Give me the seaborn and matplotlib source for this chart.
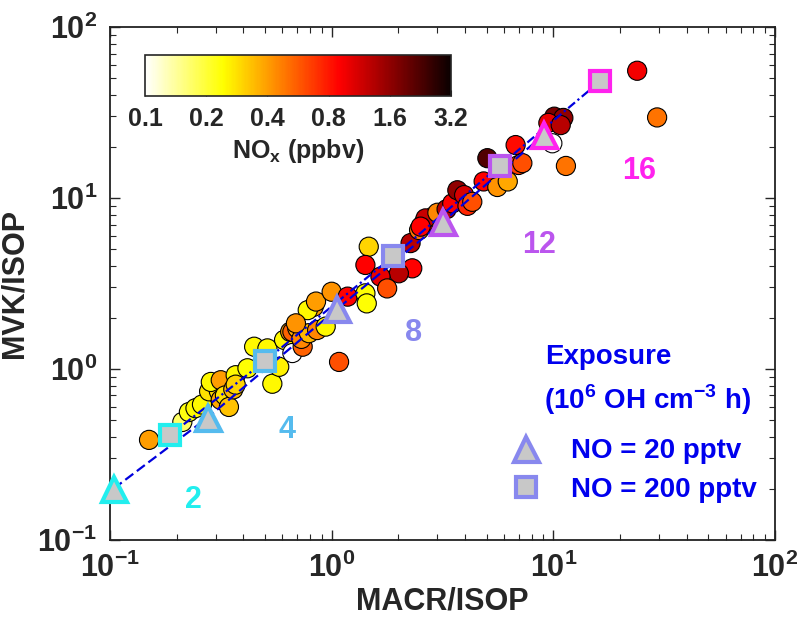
import matplotlib
matplotlib.use("Agg")
import matplotlib.pyplot as plt
from matplotlib.colors import LogNorm
from matplotlib.cm import ScalarMappable
from matplotlib.lines import Line2D
import seaborn as sns

# observations: MACR/ISOP, MVK/ISOP, NOx (ppbv)
macr_isop = [0.15, 0.212, 0.227, 0.243, 0.26, 0.28, 0.31, 0.285, 0.316, 0.316,
             0.33, 0.344, 0.36, 0.369, 0.369, 0.417, 0.447, 0.513, 0.54, 0.58,
             0.61, 0.65, 0.665, 0.665, 0.74, 0.70, 0.73, 0.79, 0.83, 0.78,
             0.85, 0.86, 0.94, 0.69, 1.0, 1.18, 1.42, 1.44, 1.08, 1.47,
             1.42, 2.31, 2.01, 1.66, 1.78, 2.27, 2.48, 2.6, 2.88, 2.65,
             2.52, 3.0, 3.3, 3.5, 3.69, 3.96, 4.1, 4.31, 4.85, 5.59,
             6.23, 5.04, 6.76, 6.97, 7.25, 9.9, 10.1, 11.1, 9.5, 10.8,
             11.4, 23.9, 29.4]
mvk_isop = [0.385, 0.49, 0.56, 0.59, 0.62, 0.74, 0.74, 0.84, 0.86, 0.66,
            0.70, 0.60, 0.76, 0.92, 0.81, 1.01, 1.35, 1.32, 0.82, 1.03,
            1.48, 1.65, 1.24, 1.65, 1.35, 1.73, 1.5, 1.62, 2.31, 2.21,
            2.48, 1.69, 1.77, 1.85, 2.83, 2.65, 2.77, 2.42, 1.1, 5.19,
            4.06, 3.88, 3.63, 3.47, 2.96, 5.45, 6.5, 7.1, 7.8, 7.6,
            6.8, 8.2, 8.6, 9.3, 11.1, 10.4, 9.0, 9.5, 12.5, 11.6,
            12.5, 17.1, 20.4, 15.6, 16.0, 20.9, 29.9, 29.4, 27.5, 26.7,
            15.4, 55.5, 29.6]
nox_ppbv = [0.4, 0.17, 0.23, 0.25, 0.25, 0.28, 0.3, 0.25, 0.4, 0.38,
            0.28, 0.33, 0.35, 0.25, 0.3, 0.24, 0.25, 0.25, 0.25, 0.26,
            0.25, 0.4, 0.1, 0.55, 0.55, 0.38, 0.45, 0.35, 0.4, 0.25,
            0.4, 0.45, 0.25, 0.42, 0.42, 0.9, 0.24, 0.24, 0.6, 0.3,
            0.9, 0.9, 1.3, 1.0, 0.6, 1.3, 0.5, 1.0, 0.32, 1.2,
            0.9, 0.45, 1.3, 0.9, 1.6, 1.1, 0.75, 0.6, 0.9, 0.42,
            0.38, 2.2, 0.85, 0.65, 0.6, 0.1, 1.8, 1.6, 1.0, 1.3,
            0.5, 0.95, 0.5]

# model exposure (10^6 OH cm^-3 h) for the two NO cases
exposure = [2, 4, 8, 12, 16]
exp_colors = ["#22eeee", "#55bbee", "#8888ee", "#bb55ee", "#ff22ee"]
no20_macr = [0.104, 0.276, 1.06, 3.17, 9.04]
no20_mvk = [0.20, 0.52, 2.25, 7.24, 23.4]
no200_macr = [0.186, 0.499, 1.90, 5.72, 16.3]
no200_mvk = [0.41, 1.11, 4.58, 15.4, 48.3]
label_x = [0.239, 0.631, 2.35, 8.61, 24.3]
label_y = [0.171, 0.44, 1.62, 5.31, 14.4]

nox_ticks = [0.1, 0.2, 0.4, 0.8, 1.6, 3.2]

sns.set_style("ticks")
plt.rcParams["font.family"] = ["Liberation Sans", "DejaVu Sans"]
plt.rcParams["font.weight"] = "bold"
plt.rcParams["axes.labelweight"] = "bold"

fig = plt.figure(figsize=(8, 6.17), dpi=100)
ax = fig.add_axes([0.1375, 0.1248, 0.8312, 0.8314])
norm = LogNorm(0.1, 3.2)

sns.scatterplot(x=macr_isop, y=mvk_isop, hue=nox_ppbv, palette="hot_r", hue_norm=norm,
                s=190, edgecolor="black", linewidth=0.8, legend=False, ax=ax, zorder=3)

line_blue = "#0000dd"
ax.plot(no20_macr, no20_mvk, color=line_blue, lw=1.6, dashes=(4.5, 2), zorder=4)
ax.plot(no200_macr, no200_mvk, color=line_blue, lw=1.6, dashes=(4, 1.5, 1, 1.5), zorder=4)
for i in range(len(exposure)):
    ax.plot(no20_macr[i], no20_mvk[i], marker="^", ms=18, mfc="#c8c8c8",
            mec=exp_colors[i], mew=3, ls="none", zorder=5, clip_on=False)
    ax.plot(no200_macr[i], no200_mvk[i], marker="s", ms=14.5, mfc="#c8c8c8",
            mec=exp_colors[i], mew=3, ls="none", zorder=5, clip_on=False)
    ax.text(label_x[i], label_y[i], str(exposure[i]), color=exp_colors[i],
            fontsize=22, fontweight="bold", ha="center", va="center")

ax.set_xscale("log")
ax.set_yscale("log")
ax.set_xlim(0.1, 100)
ax.set_ylim(0.1, 100)
ax.set_xlabel("MACR/ISOP", fontsize=22, fontweight="bold", labelpad=2)
ax.set_ylabel("MVK/ISOP", fontsize=22, fontweight="bold", labelpad=6)
ax.tick_params(which="both", direction="in", top=True, right=True, labelsize=22, pad=9)
ax.tick_params(which="major", length=7, width=1)
ax.tick_params(which="minor", length=4, width=0.8)
for sp in ax.spines.values():
    sp.set_linewidth(1.3)
    sp.set_color("#222222")

# exposure legend
blue = "#0000ee"
ax.text(0.654, 0.357, "Exposure", transform=ax.transAxes, color=blue,
        fontsize=20, fontweight="bold", va="center", ha="left")
ax.text(0.652, 0.273, r"(10$^{\mathdefault{6}}$ OH cm$^{\mathdefault{-3}}$ h)",
        transform=ax.transAxes, color=blue, fontsize=20, fontweight="bold",
        va="center", ha="left")
handles = [Line2D([], [], marker="^", ms=18, mfc="#c8c8c8", mec="#8888ee", mew=3, ls="none"),
           Line2D([], [], marker="s", ms=14.5, mfc="#c8c8c8", mec="#8888ee", mew=3, ls="none")]
leg = ax.legend(handles, ["NO = 20 pptv", "NO = 200 pptv"], loc="center left",
                bbox_to_anchor=(0.605, 0.1355), frameon=False, borderpad=0,
                borderaxespad=0, handlelength=1.0, handletextpad=1.1,
                labelspacing=0.45, prop={"size": 20, "weight": "bold"})
for t in leg.get_texts():
    t.set_color(blue)

# NOx colour bar
cax = fig.add_axes([0.18125, 0.8444, 0.3825, 0.0665])
sm = ScalarMappable(norm=norm, cmap="hot_r")
cb = fig.colorbar(sm, cax=cax, orientation="horizontal")
cb.set_ticks(nox_ticks)
cb.set_ticklabels([str(v) for v in nox_ticks])
cb.ax.minorticks_off()
cb.ax.tick_params(direction="in", length=4, labelsize=18, pad=8)
cb.outline.set_linewidth(1.2)
cb.set_label(r"NO$_{\mathdefault{x}}$ (ppbv)", fontsize=18, fontweight="bold", labelpad=4)

fig.savefig("out.png", dpi=100)
